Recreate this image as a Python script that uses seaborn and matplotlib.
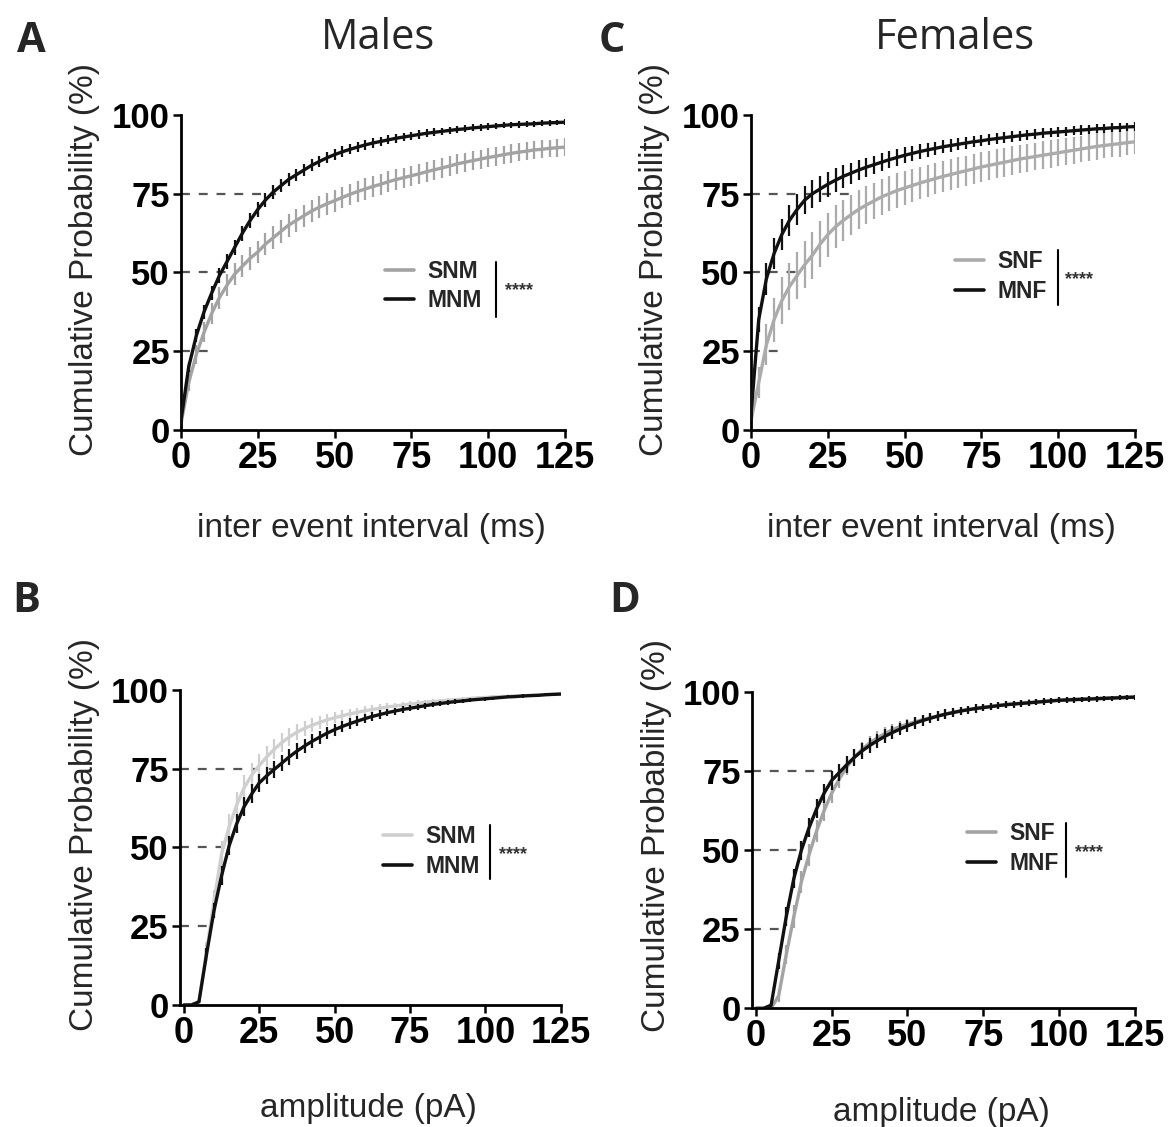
import numpy as np
import pandas as pd
import matplotlib
matplotlib.use("Agg")
import matplotlib.pyplot as plt
import seaborn as sns
from matplotlib.lines import Line2D

# eje x comun (cada 2.5 unidades)
x_vals = np.arange(0, 127.5, 2.5)
x_ticks = [0, 25, 50, 75, 100, 125]
y_ticks = [0, 25, 50, 75, 100]
quart_levels = [25, 50, 75]

# Panel A - machos, intervalo entre eventos
A_SNM_mean = [2, 15, 24, 31, 37, 42, 46, 49.5, 52, 54.5,
              56.5, 59, 61, 63, 65, 66.5, 68, 69.5, 70.7, 71.8,
              72.8, 73.8, 74.8, 75.7, 76.5, 77.3, 78, 78.8, 79.5, 80.1,
              80.7, 81.3, 82, 82.6, 83.2, 83.8, 84.5, 85, 85.5, 86,
              86.5, 86.9, 87.4, 87.8, 88.2, 88.5, 88.9, 89.1, 89.4, 89.6,
              89.8]
A_SNM_sem = [1.5, 2.5, 3.0, 3.2, 3.4, 3.5, 3.6, 3.6, 3.6, 3.6,
             3.6, 3.6, 3.6, 3.6, 3.6, 3.6, 3.5, 3.5, 3.5, 3.5,
             3.5, 3.4, 3.4, 3.4, 3.4, 3.3, 3.3, 3.3, 3.3, 3.2,
             3.2, 3.2, 3.2, 3.1, 3.1, 3.1, 3.1, 3.0, 3.0, 3.0,
             3.0, 3.0, 2.9, 2.9, 2.9, 2.9, 2.8, 2.8, 2.8, 2.8,
             2.8]
A_MNM_mean = [3, 20, 30, 37.5, 43.5, 49, 53.5, 58, 62.5, 66.5,
              70, 73, 75.5, 77.5, 79.5, 81, 82.5, 84, 85.2, 86.4,
              87.4, 88.3, 89.1, 89.8, 90.5, 91.1, 91.6, 92.1, 92.6, 93.0,
              93.4, 93.8, 94.2, 94.5, 94.8, 95.1, 95.4, 95.6, 95.9, 96.1,
              96.3, 96.5, 96.7, 96.9, 97.0, 97.1, 97.2, 97.4, 97.5, 97.6,
              97.7]
A_MNM_sem = [1.0, 1.5, 2.0, 2.2, 2.3, 2.4, 2.4, 2.4, 2.4, 2.3,
             2.3, 2.2, 2.2, 2.1, 2.0, 2.0, 1.9, 1.9, 1.8, 1.8,
             1.7, 1.7, 1.6, 1.6, 1.5, 1.5, 1.5, 1.4, 1.4, 1.4,
             1.3, 1.3, 1.3, 1.2, 1.2, 1.2, 1.2, 1.1, 1.1, 1.1,
             1.1, 1.0, 1.0, 1.0, 1.0, 1.0, 0.9, 0.9, 0.9, 0.9,
             0.9]

# Panel B - machos, amplitud
B_SNM_mean = [0, 0, 1, 17, 33, 48, 56.5, 63.5, 69, 73,
              76, 78.8, 81.2, 83.3, 85.1, 86.6, 87.8, 88.8, 89.7, 90.5,
              91.2, 91.8, 92.4, 92.9, 93.4, 93.8, 94.2, 94.6, 94.9, 95.2,
              95.5, 95.8, 96.1, 96.3, 96.5, 96.7, 96.9, 97.1, 97.3, 97.5,
              97.6, 97.8, 97.9, 98.0, 98.1, 98.2, 98.3, 98.4, 98.5, 98.6,
              98.7]
B_SNM_sem = [0, 0, 0.5, 3, 3.5, 4, 4, 4, 4, 3.8,
             3.6, 3.4, 3.2, 3, 2.8, 2.6, 2.4, 2.2, 2, 1.9,
             1.8, 1.7, 1.6, 1.5, 1.4, 1.3, 1.2, 1.1, 1, 1,
             0.9, 0.9, 0.8, 0.8, 0.7, 0.7, 0.7, 0.6, 0.6, 0.6,
             0.5, 0.5, 0.5, 0.5, 0.5, 0.4, 0.4, 0.4, 0.4, 0.4,
             0.4]
B_MNM_mean = [0, 0, 1, 16, 30, 41, 50.5, 57.5, 63, 67,
              70.5, 72.8, 74.8, 76.8, 78.8, 80.6, 82.2, 83.7, 85, 86.3,
              87.4, 88.4, 89.3, 90.1, 90.9, 91.6, 92.2, 92.8, 93.3, 93.8,
              94.2, 94.6, 95, 95.4, 95.7, 96, 96.3, 96.5, 96.8, 97,
              97.2, 97.4, 97.6, 97.8, 97.9, 98.1, 98.2, 98.3, 98.5, 98.6,
              98.7]
B_MNM_sem = [0, 0, 0.5, 2, 2.5, 3, 3, 3, 3, 3,
             2.9, 2.8, 2.7, 2.6, 2.5, 2.4, 2.3, 2.2, 2.1, 2.0,
             1.9, 1.8, 1.7, 1.6, 1.5, 1.4, 1.3, 1.2, 1.1, 1.0,
             1.0, 0.9, 0.9, 0.8, 0.8, 0.7, 0.7, 0.7, 0.6, 0.6,
             0.6, 0.5, 0.5, 0.5, 0.5, 0.5, 0.4, 0.4, 0.4, 0.4,
             0.4]

# Panel C - hembras, intervalo entre eventos
C_SNF_mean = [3, 15, 27, 35, 41, 45.5, 49, 52.5, 55.5, 59,
              62, 64.5, 66.5, 68.3, 70, 71.4, 72.7, 74, 75, 76,
              76.8, 77.6, 78.4, 79.1, 79.8, 80.5, 81.1, 81.7, 82.3, 82.9,
              83.5, 84, 84.5, 85, 85.5, 86, 86.4, 86.8, 87.2, 87.6,
              88, 88.4, 88.8, 89.2, 89.6, 90, 90.3, 90.6, 90.9, 91.2,
              91.5]
C_SNF_sem = [2, 5, 6.5, 7, 7.5, 7.5, 7.5, 7.5, 7.5, 7.3,
             7, 6.8, 6.6, 6.4, 6.2, 6, 5.8, 5.7, 5.6, 5.5,
             5.4, 5.3, 5.2, 5.1, 5, 5, 4.9, 4.9, 4.8, 4.8,
             4.7, 4.7, 4.6, 4.6, 4.5, 4.5, 4.5, 4.4, 4.4, 4.4,
             4.3, 4.3, 4.3, 4.2, 4.2, 4.2, 4.1, 4.1, 4.1, 4,
             4]
C_MNF_mean = [5, 35, 48, 56, 62, 66.5, 70, 73, 75, 76.5,
              78, 79.3, 80.5, 81.5, 82.5, 83.4, 84.2, 85, 85.8, 86.5,
              87.2, 87.8, 88.4, 88.9, 89.4, 89.9, 90.3, 90.7, 91.1, 91.5,
              91.8, 92.2, 92.5, 92.8, 93.1, 93.4, 93.7, 93.9, 94.2, 94.4,
              94.6, 94.8, 95.0, 95.2, 95.4, 95.6, 95.7, 95.9, 96.0, 96.2,
              96.3]
C_MNF_sem = [2, 4, 5, 5, 5, 5, 4.8, 4.6, 4.4, 4.2,
             4, 3.8, 3.6, 3.4, 3.2, 3, 2.9, 2.8, 2.7, 2.6,
             2.5, 2.4, 2.3, 2.2, 2.1, 2.0, 2.0, 1.9, 1.9, 1.8,
             1.8, 1.8, 1.7, 1.7, 1.7, 1.6, 1.6, 1.6, 1.6, 1.5,
             1.5, 1.5, 1.5, 1.5, 1.4, 1.4, 1.4, 1.4, 1.4, 1.4,
             1.4]

# Panel D - hembras, amplitud
D_SNF_mean = [0, 0, 0, 4, 17, 29, 40, 48.5, 56, 62.5,
              68, 72.5, 76.3, 79.3, 81.8, 83.8, 85.4, 86.8, 88, 89,
              89.8, 90.5, 91.2, 91.8, 92.4, 93, 93.5, 94, 94.4, 94.8,
              95.1, 95.4, 95.7, 96, 96.2, 96.4, 96.6, 96.8, 97, 97.2,
              97.3, 97.5, 97.6, 97.7, 97.8, 97.9, 98, 98.1, 98.2, 98.3,
              98.4]
D_SNF_sem = [0, 0, 0, 2, 3, 3.5, 3.5, 3.5, 3.5, 3.3,
             3.1, 2.9, 2.7, 2.5, 2.3, 2.2, 2.1, 2, 1.9, 1.8,
             1.7, 1.6, 1.5, 1.5, 1.4, 1.4, 1.3, 1.3, 1.2, 1.2,
             1.1, 1.1, 1.1, 1, 1, 1, 1, 0.9, 0.9, 0.9,
             0.9, 0.9, 0.8, 0.8, 0.8, 0.8, 0.8, 0.7, 0.7, 0.7,
             0.7]
D_MNF_mean = [0, 0, 1, 15, 29, 41, 50, 57, 63, 68,
              72, 74.5, 77, 79.3, 81.3, 83, 84.5, 85.9, 87.1, 88.2,
              89.2, 90.1, 90.9, 91.6, 92.3, 92.9, 93.4, 93.9, 94.3, 94.7,
              95, 95.3, 95.6, 95.9, 96.1, 96.3, 96.5, 96.7, 96.9, 97.1,
              97.3, 97.4, 97.5, 97.6, 97.7, 97.8, 97.9, 98, 98.1, 98.2,
              98.3]
D_MNF_sem = [0, 0, 0.5, 2.5, 3, 3, 3, 3, 3, 3,
             2.9, 2.8, 2.7, 2.6, 2.5, 2.4, 2.3, 2.2, 2.1, 2,
             1.9, 1.8, 1.7, 1.6, 1.5, 1.5, 1.4, 1.4, 1.3, 1.3,
             1.2, 1.2, 1.1, 1.1, 1.1, 1, 1, 1, 1, 1,
             0.9, 0.9, 0.9, 0.9, 0.9, 0.9, 0.8, 0.8, 0.8, 0.8,
             0.8]

# hasta donde llegan las lineas punteadas de 25/50/75 %
A_quart_ends = [10.5, 16.5, 31]
B_quart_ends = [10.3, 15.8, 29.5]
C_quart_ends = [11, 17, 32.8]
D_quart_ends = [9, 16.2, 27.7]

sns.set_style("ticks")
plt.rcParams["font.family"] = ["Liberation Sans", "DejaVu Sans"]

BLACK = "#111111"
DASH = "#555555"


# Funcion para dibujar una curva con sus barras de error
def curva(ax, mean, sem, color, z):
    df = pd.DataFrame({"x": x_vals, "y": mean, "sem": sem})
    ax.errorbar(df["x"], df["y"], yerr=df["sem"], fmt="none", ecolor=color,
                elinewidth=1.6, capsize=0, zorder=z)
    sns.lineplot(data=df, x="x", y="y", ax=ax, color=color, lw=2.4,
                 errorbar=None, sort=False, legend=False, zorder=z + 0.5)


# Funcion para armar un panel completo
def panel(ax, grupos, quart_ends, xmin, xlabel, xlab_y, ylab_x, ylab_y,
          leg_pos, bar_x, bar_y, star_pos):
    for q, xe in zip(quart_levels, quart_ends):
        ax.hlines(q, xmin, xe, colors=DASH, linestyles=(0, (4, 4)), lw=1.6, zorder=1)

    handles = []
    labels = []
    z = 2
    for nombre, mean, sem, color in grupos:
        curva(ax, mean, sem, color, z)
        handles.append(Line2D([], [], color=color, lw=2.6))
        labels.append(nombre)
        z += 1

    ax.set_xlim(xmin, 125)
    ax.set_ylim(0, 100)
    ax.set_xticks(x_ticks)
    ax.set_yticks(y_ticks)
    ax.set_xticklabels([str(t) for t in x_ticks], fontsize=26, fontweight="bold")
    ax.set_yticklabels([str(t) for t in y_ticks], fontsize=25, fontweight="bold")
    ax.tick_params(axis="both", direction="out", length=6, width=1.8, pad=2, colors="black")
    sns.despine(ax=ax)
    for s in ["left", "bottom"]:
        ax.spines[s].set_linewidth(2.0)
        ax.spines[s].set_color("black")

    ax.set_xlabel(xlabel, fontsize=24, va="top")
    ax.xaxis.set_label_coords(0.495, xlab_y)
    ax.set_ylabel("Cumulative Probability (%)", fontsize=24)
    ax.yaxis.set_label_coords(ylab_x, ylab_y)

    ax.legend(handles, labels, loc="center left", bbox_to_anchor=leg_pos,
              frameon=False, borderpad=0, borderaxespad=0,
              handlelength=1.25, handletextpad=0.6, labelspacing=0.3,
              prop={"weight": "bold", "size": 16.5})
    ax.plot([bar_x, bar_x], bar_y, transform=ax.transAxes, color="black",
            lw=1.5, clip_on=False)
    ax.text(star_pos[0], star_pos[1], "****", transform=ax.transAxes,
            fontsize=13, fontweight="bold", color="#333333", va="baseline", ha="left")


fig = plt.figure(figsize=(11.7, 11.27), dpi=100)
axA = fig.add_axes([0.1547, 0.6185, 0.3282, 0.2795])
axC = fig.add_axes([0.6419, 0.6185, 0.3282, 0.2795])
axB = fig.add_axes([0.1538, 0.1083, 0.3256, 0.2795])
axD = fig.add_axes([0.6425, 0.1053, 0.3274, 0.2809])

panel(axA, [("SNM", A_SNM_mean, A_SNM_sem, "#a3a3a3"),
            ("MNM", A_MNM_mean, A_MNM_sem, BLACK)],
      A_quart_ends, 0, "inter event interval (ms)", -0.263, -0.211, 0.54,
      (0.531, 0.457), 0.820, [0.533, 0.359], (0.844, 0.427))

panel(axC, [("SNF", C_SNF_mean, C_SNF_sem, "#ababab"),
            ("MNF", C_MNF_mean, C_MNF_sem, BLACK)],
      C_quart_ends, 0, "inter event interval (ms)", -0.263, -0.211, 0.54,
      (0.531, 0.486), 0.799, [0.571, 0.397], (0.818, 0.463))

panel(axB, [("SNM", B_SNM_mean, B_SNM_sem, "#cfcfcf"),
            ("MNM", B_MNM_mean, B_MNM_sem, BLACK)],
      B_quart_ends, -1.3, "amplitude (pA)", -0.28, -0.211, 0.54,
      (0.533, 0.486), 0.814, [0.571, 0.400], (0.837, 0.463))

panel(axD, [("SNF", D_SNF_mean, D_SNF_sem, "#a3a3a3"),
            ("MNF", D_MNF_mean, D_MNF_sem, BLACK)],
      D_quart_ends, -1.4, "amplitude (pA)", -0.28, -0.208, 0.547,
      (0.562, 0.506), 0.821, [0.585, 0.415], (0.844, 0.479))

# titulos y letras de panel
fig.text(0.323, 0.9565, "Males", fontsize=30, family=["Open Sans", "DejaVu Sans"],
         ha="center", va="baseline")
fig.text(0.816, 0.9565, "Females", fontsize=30, family=["Open Sans", "DejaVu Sans"],
         ha="center", va="baseline")
for letra, xx, yy in [("A", 0.0145, 0.954), ("C", 0.512, 0.954),
                      ("B", 0.0105, 0.457), ("D", 0.521, 0.457)]:
    fig.text(xx, yy, letra, fontsize=30, fontweight="bold",
             family=["Open Sans", "DejaVu Sans"], ha="left", va="baseline")

fig.savefig("out.png", dpi=100, facecolor="white")
